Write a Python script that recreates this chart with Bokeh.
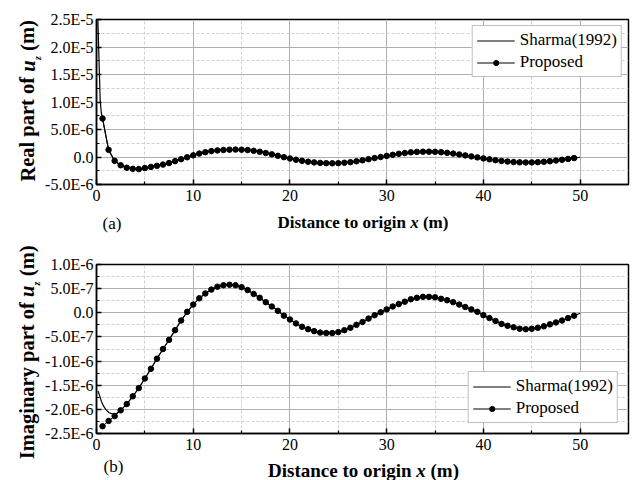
from bokeh.plotting import figure
from bokeh.layouts import column, row
from bokeh.models import (Range1d, FixedTicker, CustomJSTickFormatter, Label,
                          Legend, LegendItem)
from bokeh.embed import file_html
from bokeh.resources import INLINE

SERIF = "'Liberation Serif'"

# ---------------- data (values in units of 1e-6 m) ----------------
x_prop = [0.625, 1.25, 1.875, 2.5, 3.125, 3.75, 4.375, 5.0, 5.625, 6.25,
          6.875, 7.5, 8.125, 8.75, 9.375, 10.0, 10.625, 11.25, 11.875, 12.5,
          13.125, 13.75, 14.375, 15.0, 15.625, 16.25, 16.875, 17.5, 18.125, 18.75,
          19.375, 20.0, 20.625, 21.25, 21.875, 22.5, 23.125, 23.75, 24.375, 25.0,
          25.625, 26.25, 26.875, 27.5, 28.125, 28.75, 29.375, 30.0, 30.625, 31.25,
          31.875, 32.5, 33.125, 33.75, 34.375, 35.0, 35.625, 36.25, 36.875, 37.5,
          38.125, 38.75, 39.375, 40.0, 40.625, 41.25, 41.875, 42.5, 43.125, 43.75,
          44.375, 45.0, 45.625, 46.25, 46.875, 47.5, 48.125, 48.75, 49.375]

real_prop = [7.0, 1.3, -0.7, -1.5, -1.95, -2.15, -2.2, -2.0, -1.8, -1.6,
             -1.38, -1.1, -0.75, -0.4, -0.05, 0.3, 0.62, 0.88, 1.07, 1.2,
             1.28, 1.33, 1.35, 1.33, 1.26, 1.12, 0.95, 0.72, 0.48, 0.22,
             -0.03, -0.27, -0.5, -0.7, -0.86, -0.98, -1.07, -1.12, -1.14, -1.12,
             -1.05, -0.94, -0.78, -0.6, -0.4, -0.2, 0.0, 0.2, 0.4, 0.58,
             0.73, 0.85, 0.93, 0.97, 0.97, 0.94, 0.87, 0.76, 0.62, 0.46,
             0.29, 0.11, -0.07, -0.25, -0.42, -0.58, -0.72, -0.83, -0.92, -0.97,
             -0.99, -0.98, -0.94, -0.87, -0.77, -0.64, -0.5, -0.35, -0.2]

imag_prop = [-2.35, -2.24, -2.14, -2.02, -1.89, -1.73, -1.56, -1.36, -1.16, -0.95,
             -0.75, -0.56, -0.36, -0.16, 0.02, 0.17, 0.30, 0.40, 0.48, 0.54,
             0.57, 0.58, 0.57, 0.53, 0.47, 0.39, 0.31, 0.22, 0.13, 0.04,
             -0.06, -0.14, -0.22, -0.29, -0.34, -0.38, -0.41, -0.42, -0.42, -0.40,
             -0.36, -0.31, -0.25, -0.19, -0.12, -0.05, 0.01, 0.07, 0.13, 0.18,
             0.23, 0.28, 0.31, 0.33, 0.33, 0.32, 0.29, 0.26, 0.22, 0.17,
             0.12, 0.07, 0.02, -0.05, -0.11, -0.17, -0.23, -0.27, -0.30, -0.33,
             -0.34, -0.33, -0.31, -0.28, -0.24, -0.20, -0.16, -0.11, -0.06]

# Sharma(1992): differs from the proposed curve only near the origin
real_sharma_head_x = [0.13, 0.28, 0.38, 0.5]
real_sharma_head_y = [25.5, 16.4, 10.3, 8.0]
real_sharma_tail_x = [50.0]
real_sharma_tail_y = [-0.05]

imag_sharma_head_x = [0.15, 0.3, 0.5, 0.75, 1.0, 1.3, 1.7, 2.1, 2.5]
imag_sharma_head_y = [-1.62, -1.70, -1.83, -1.94, -2.01, -2.07, -2.10, -2.08, -2.02]
imag_sharma_tail_x = [50.0]
imag_sharma_tail_y = [-0.01]

x_major = [0, 10, 20, 30, 40, 50]
x_minor = [5, 15, 25, 35, 45]
real_major = [-5, 0, 5, 10, 15, 20, 25]
real_minor = [-2.5, 2.5, 7.5, 12.5, 17.5, 22.5]
imag_major = [-2.5, -2.0, -1.5, -1.0, -0.5, 0.0, 0.5, 1.0]
imag_minor = [-2.25, -1.75, -1.25, -0.75, -0.25, 0.25, 0.75]

real_sharma_x = real_sharma_head_x + x_prop + real_sharma_tail_x
real_sharma_y = real_sharma_head_y + real_prop + real_sharma_tail_y
imag_sharma_x = imag_sharma_head_x + x_prop[4:] + imag_sharma_tail_x
imag_sharma_y = imag_sharma_head_y + imag_prop[4:] + imag_sharma_tail_y

FMT = """
if (Math.abs(tick) < 1e-9) { return "0.0"; }
const v = tick * 1e-6;
const e = Math.floor(Math.log10(Math.abs(v)) + 1e-9);
const m = v / Math.pow(10, e);
return m.toFixed(1) + "E" + e;
"""


def make_fig(height, top, bottom, yr, ymaj, ymin):
    p = figure(width=590, height=height, output_backend="svg", toolbar_location=None,
               x_range=Range1d(0, 55), y_range=Range1d(*yr),
               min_border_left=53, min_border_right=4,
               min_border_top=top, min_border_bottom=bottom)
    xt = FixedTicker(ticks=x_major, minor_ticks=x_minor)
    yt = FixedTicker(ticks=ymaj, minor_ticks=ymin)
    p.xaxis.ticker = xt
    p.yaxis.ticker = yt
    p.xgrid.ticker = xt
    p.ygrid.ticker = yt
    p.yaxis.formatter = CustomJSTickFormatter(code=FMT)
    for ax in (p.xaxis[0], p.yaxis[0]):
        ax.axis_line_color = "black"
        ax.axis_line_width = 1.5
        ax.major_tick_in = 5
        ax.major_tick_out = 0
        ax.minor_tick_in = 3
        ax.minor_tick_out = 0
        ax.major_tick_line_color = "black"
        ax.major_tick_line_width = 1.5
        ax.minor_tick_line_color = "black"
        ax.minor_tick_line_width = 1.2
        ax.major_label_text_font = SERIF
        ax.major_label_text_font_size = "16px"
        ax.major_label_text_color = "black"
    p.xaxis[0].major_label_standoff = 5
    p.yaxis[0].major_label_standoff = 3
    for g in (p.xgrid[0], p.ygrid[0]):
        g.grid_line_color = "#b0b0b0"
        g.grid_line_width = 1
        g.minor_grid_line_color = "#d0d0d0"
        g.minor_grid_line_dash = "3 2"
        g.minor_grid_line_width = 1
    p.outline_line_color = "black"
    p.outline_line_width = 1.5
    return p


def add_legend(p, r1, r2, r3, loc, margin):
    leg = Legend(items=[LegendItem(label="Sharma(1992)", renderers=[r1]),
                        LegendItem(label="Proposed", renderers=[r2, r3])],
                 location=loc)
    leg.label_text_font = SERIF
    leg.label_text_font_size = "17px"
    leg.label_text_color = "black"
    leg.border_line_color = "#808080"
    leg.border_line_width = 1
    leg.background_fill_color = "white"
    leg.background_fill_alpha = 1.0
    leg.glyph_width = 38
    leg.glyph_height = 13
    leg.label_height = 20
    leg.label_standoff = 5
    leg.spacing = 2
    leg.padding = 4
    leg.margin = margin
    p.add_layout(leg)


def blank(width, height):
    f = figure(width=width, height=height, output_backend="svg", toolbar_location=None,
               x_range=Range1d(0, width), y_range=Range1d(0, height),
               x_axis_type=None, y_axis_type=None,
               min_border_left=0, min_border_right=0, min_border_top=0, min_border_bottom=0)
    f.outline_line_color = None
    f.grid.visible = False
    return f


def lab(p, text, x, y, size, style="bold", angle=0.0, base="alphabetic"):
    p.add_layout(Label(x=x, y=y, x_units="screen", y_units="screen", text=text,
                       text_font=SERIF, text_font_size=size, text_font_style=style,
                       text_color="black", angle=angle, text_align="left",
                       text_baseline=base))


A = 1.5708

# ---------------- (a) real part ----------------
pa = make_fig(207, 19, 23, (-5, 25), real_major, real_minor)
ra1 = pa.line(real_sharma_x, real_sharma_y, line_color="black", line_width=1.2)
ra2 = pa.line(x_prop, real_prop, line_color="black", line_width=1)
ra3 = pa.scatter(x_prop, real_prop, size=5.5, color="black")
add_legend(pa, ra1, ra2, ra3, "top_right", 6)

xa = blank(590, 29)
lab(xa, "Distance to origin", 181, 14, "17px", base="middle")
lab(xa, "x", 313.7, 14, "17px", style="bold italic", base="middle")
lab(xa, "(m)", 326.4, 14, "17px", base="middle")
lab(xa, "(a)", 6, 13.5, "17px", style="normal", base="middle")

# ---------------- (b) imaginary part ----------------
pb = make_fig(220, 28, 23, (-2.5, 1.0), imag_major, imag_minor)
rb1 = pb.line(imag_sharma_x, imag_sharma_y, line_color="black", line_width=1.2)
rb2 = pb.line(x_prop, imag_prop, line_color="black", line_width=1)
rb3 = pb.scatter(x_prop, imag_prop, size=5.5, color="black")
add_legend(pb, rb1, rb2, rb3, "bottom_right", 10)

xb = blank(590, 24)
lab(xb, "Distance to origin", 171.5, 10.5, "19px", base="middle")
lab(xb, "x", 319.8, 10.5, "19px", style="bold italic", base="middle")
lab(xb, "(m)", 334.0, 10.5, "19px", base="middle")
lab(xb, "(b)", 7, 14.5, "17px", style="normal", base="middle")

# ---------------- y-axis titles ----------------
yl = blank(42, 480)
lab(yl, "Real part of", 27, 298.9, "20.5px", angle=A)
lab(yl, "u", 27, 408.8, "20.5px", style="bold italic", angle=A)
lab(yl, "z", 36.6, 420.4, "10px", style="bold italic", angle=A)
lab(yl, "(m)", 27, 429.6, "20.5px", angle=A)
lab(yl, "Imaginary part of", 26.5, 21.2, "20.5px", angle=A)
lab(yl, "u", 26.5, 183.5, "20.5px", style="bold italic", angle=A)
lab(yl, "z", 36.1, 195.1, "10px", style="bold italic", angle=A)
lab(yl, "(m)", 26.5, 204.3, "20.5px", angle=A)

layout = row(yl, column(pa, xa, pb, xb, spacing=0), spacing=0)
open("out.html", "w").write(file_html(layout, INLINE))
